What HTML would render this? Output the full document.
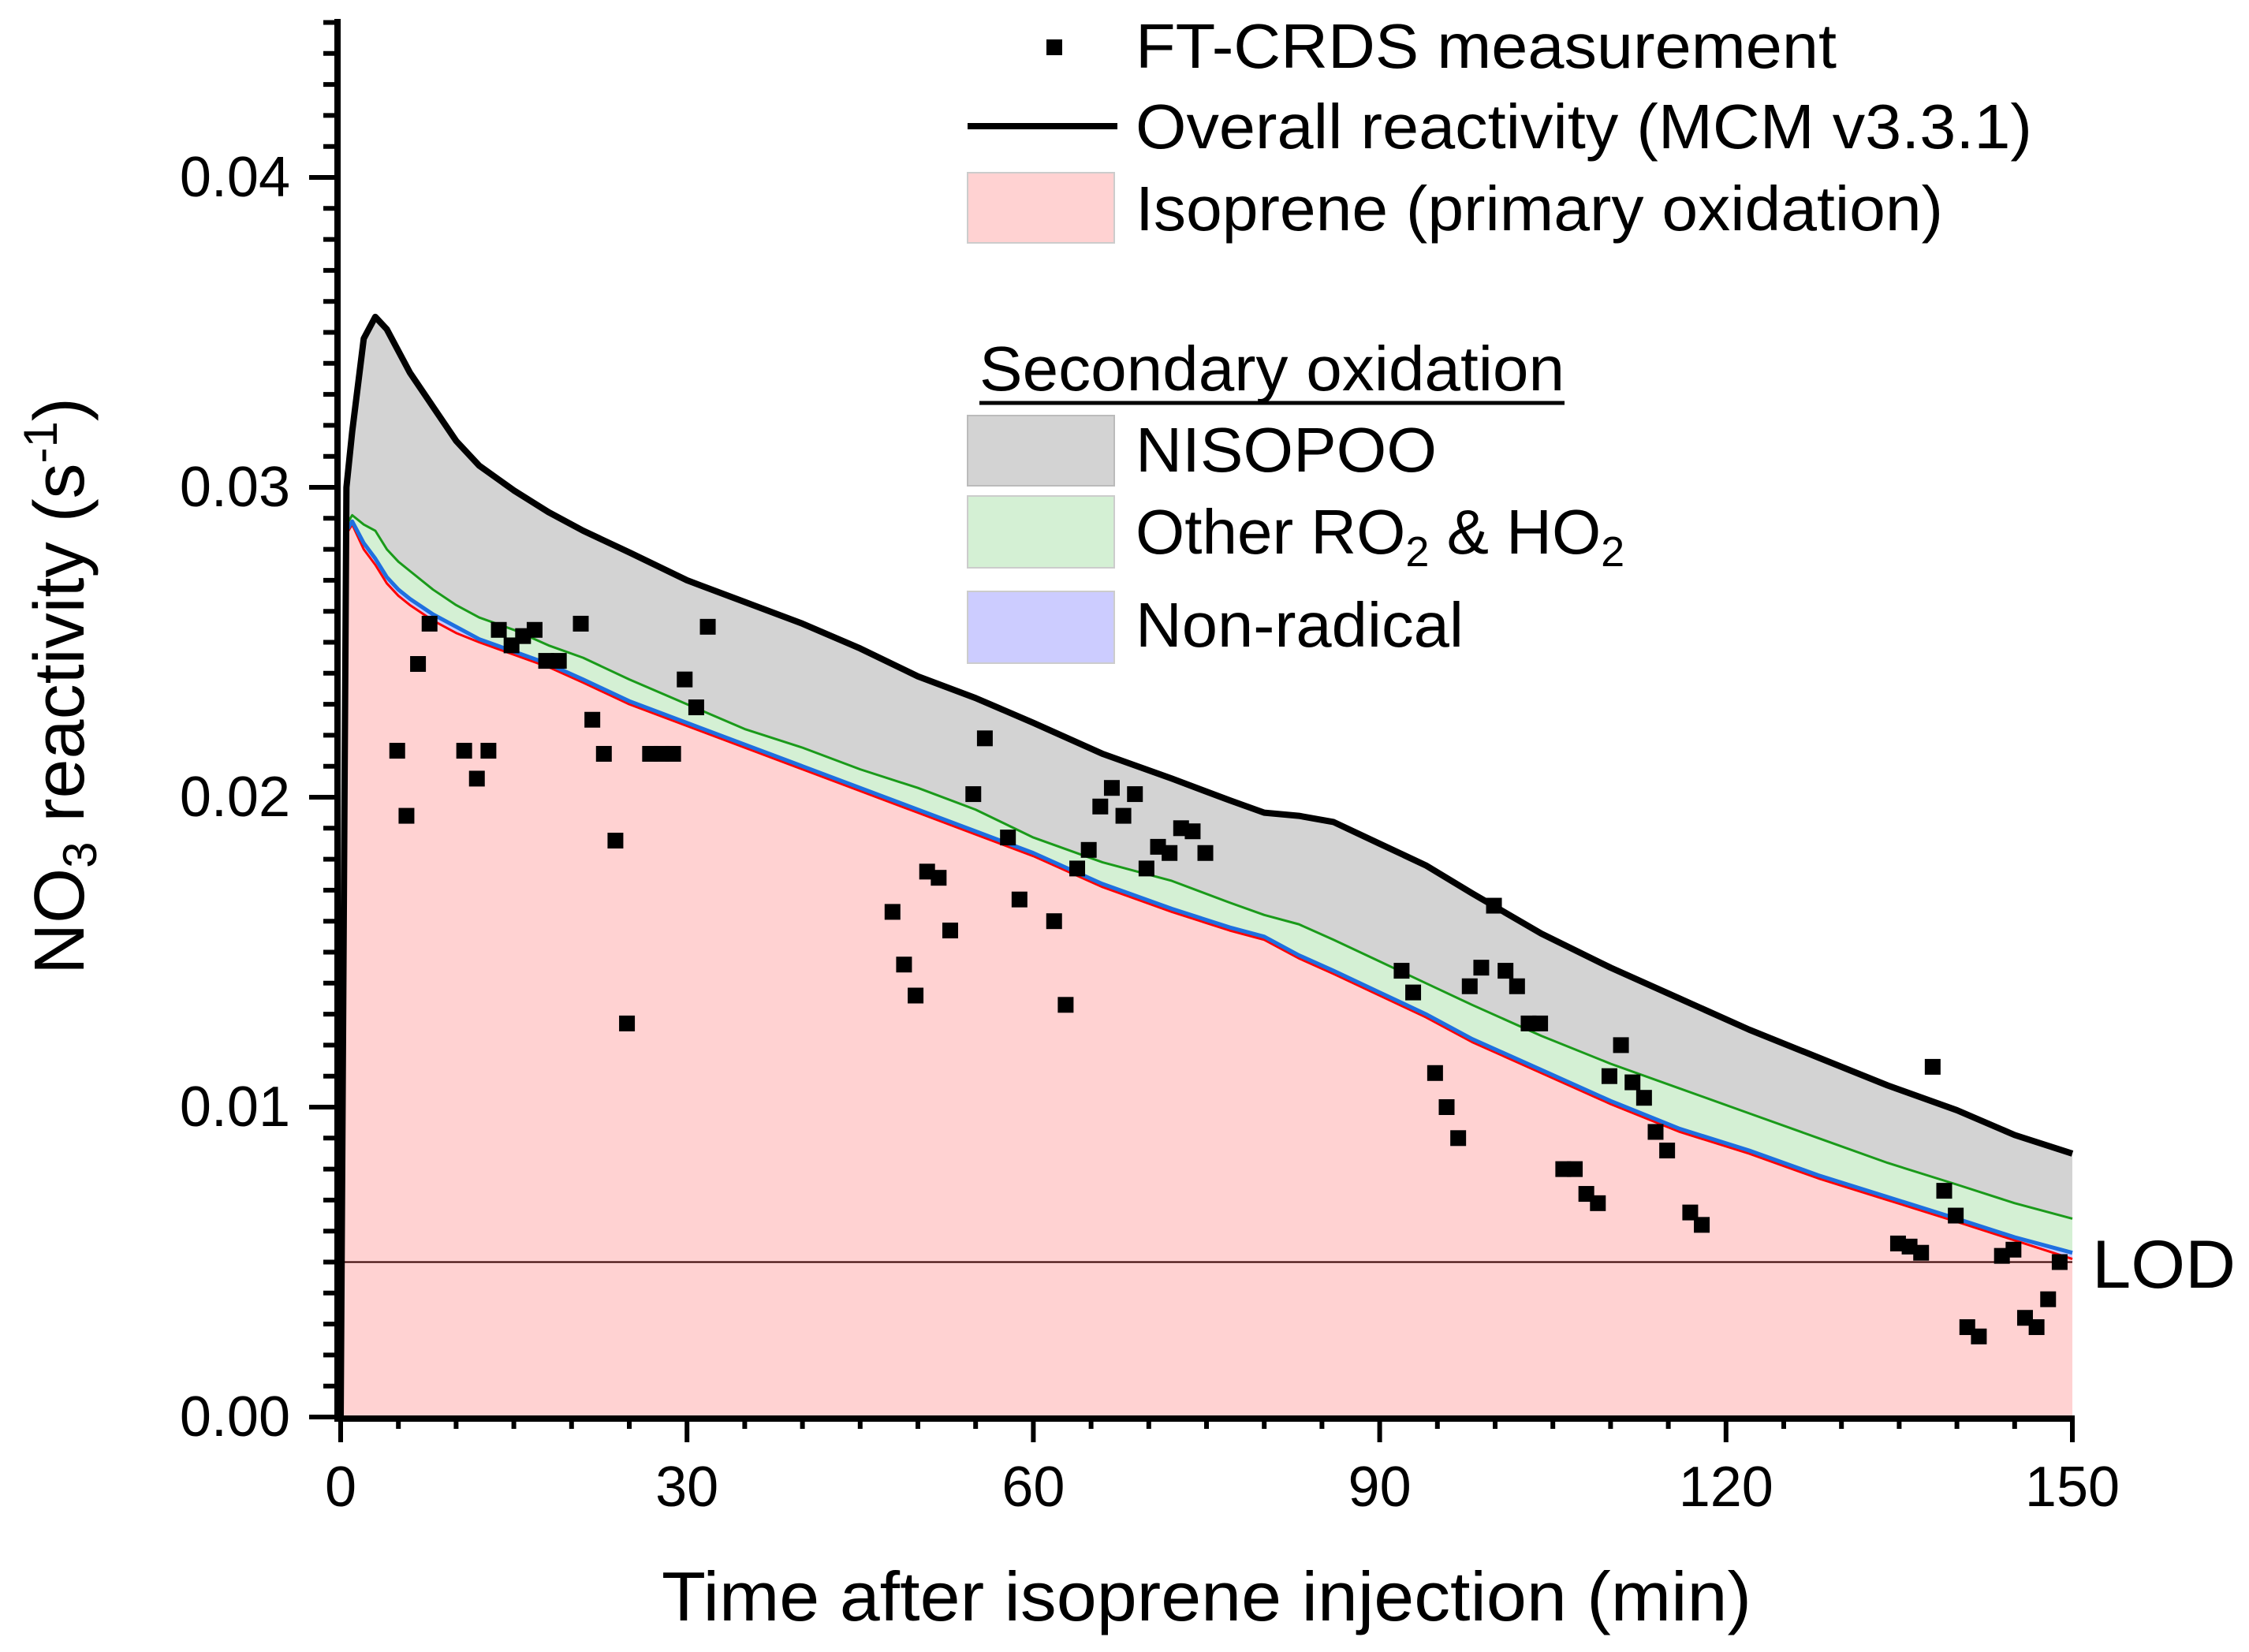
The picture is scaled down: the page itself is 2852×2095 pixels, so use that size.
<!DOCTYPE html>
<html><head><meta charset="utf-8"><style>
html,body{margin:0;padding:0;background:#fff;}
svg{display:block;font-family:"Liberation Sans",Arial,sans-serif;}
</style></head><body>
<svg id="chart" width="2852" height="2095" viewBox="0 0 2852 2095" xmlns="http://www.w3.org/2000/svg">
<g id="plot"></g>
<g id="axes"></g>
<g font-size="80">
  <rect x="1327" y="50" width="20" height="20" fill="#000"/>
  <text x="1440" y="86" textLength="889" lengthAdjust="spacingAndGlyphs">FT-CRDS measurement</text>
  <line x1="1227" y1="160" x2="1417" y2="160" stroke="#000" stroke-width="8"/>
  <text x="1440" y="188" textLength="1137" lengthAdjust="spacingAndGlyphs">Overall reactivity (MCM v3.3.1)</text>
  <rect x="1227" y="219" width="186" height="89" fill="#ffd2d2" stroke="#ccc" stroke-width="2"/>
  <text x="1440" y="292" textLength="1024" lengthAdjust="spacingAndGlyphs">Isoprene (primary oxidation)</text>
  <text x="1242" y="495" textLength="742" lengthAdjust="spacingAndGlyphs">Secondary oxidation</text>
  <line x1="1242" y1="511" x2="1984" y2="511" stroke="#000" stroke-width="5"/>
  <rect x="1227" y="527" width="186" height="89" fill="#d3d3d3" stroke="#bbb" stroke-width="2"/>
  <text x="1440" y="598" textLength="382" lengthAdjust="spacingAndGlyphs">NISOPOO</text>
  <rect x="1227" y="629" width="186" height="91" fill="#d4f0d4" stroke="#ccc" stroke-width="2"/>
  <text x="1440" y="702">Other RO<tspan font-size="54" dy="16">2</tspan><tspan dy="-16"> &amp; HO</tspan><tspan font-size="54" dy="16">2</tspan></text>
  <rect x="1227" y="750" width="186" height="91" fill="#ccccff" stroke="#ccc" stroke-width="2"/>
  <text x="1440" y="820" textLength="416" lengthAdjust="spacingAndGlyphs">Non-radical</text>
</g>
<text x="1530" y="2055" font-size="88" text-anchor="middle" textLength="1382" lengthAdjust="spacingAndGlyphs">Time after isoprene injection (min)</text>
<text transform="translate(106,870) rotate(-90)" font-size="90" text-anchor="middle">NO<tspan font-size="60" dy="16">3</tspan><tspan dy="-16"> reactivity (s</tspan><tspan font-size="60" dy="-34">-1</tspan><tspan dy="34">)</tspan></text>
<text x="2653" y="1633" font-size="86" textLength="182" lengthAdjust="spacingAndGlyphs">LOD</text>
</svg>
<script>
const modelTime  = [0, 0.5, 1, 2, 3, 4, 5, 6, 8, 10, 12, 15, 18, 21, 25, 30, 35, 40, 45, 50, 55, 60, 66, 72, 77, 80, 83, 86, 90, 94, 98, 104, 110, 116, 122, 128, 134, 140, 145, 150];
const overall    = [0, 0.0300, 0.0318, 0.0348, 0.0355, 0.0351, 0.0344, 0.0337, 0.0326, 0.0315, 0.0307, 0.0299, 0.0292, 0.0286, 0.0279, 0.0270, 0.0263, 0.0256, 0.0248, 0.0239, 0.0232, 0.0224, 0.0214, 0.0206, 0.0199, 0.0195, 0.0194, 0.0192, 0.0185, 0.0178, 0.0169, 0.0156, 0.0145, 0.0135, 0.0125, 0.0116, 0.0107, 0.0099, 0.0091, 0.0085];
const otherRO2   = [0, 0.0288, 0.0291, 0.0288, 0.0286, 0.0280, 0.0276, 0.0273, 0.0267, 0.0262, 0.0258, 0.0254, 0.0249, 0.0245, 0.0238, 0.0230, 0.0222, 0.0216, 0.0209, 0.0203, 0.0196, 0.0187, 0.0179, 0.0173, 0.0166, 0.0162, 0.0159, 0.0154, 0.0147, 0.0140, 0.0133, 0.0123, 0.0114, 0.0106, 0.0098, 0.0090, 0.0082, 0.0075, 0.0069, 0.0064];
const nonRadical = [0, 0.0286, 0.0289, 0.0282, 0.0277, 0.0271, 0.0267, 0.0264, 0.0259, 0.0255, 0.0251, 0.0247, 0.0243, 0.0238, 0.0231, 0.0224, 0.0217, 0.0210, 0.0203, 0.0196, 0.0189, 0.0182, 0.0172, 0.0164, 0.0158, 0.0155, 0.0149, 0.0144, 0.0137, 0.0130, 0.0122, 0.0112, 0.0102, 0.0093, 0.0086, 0.0078, 0.0071, 0.0064, 0.0058, 0.0053];
const isoprene   = [0, 0.0285, 0.0288, 0.0280, 0.0275, 0.0269, 0.0265, 0.0262, 0.0257, 0.0253, 0.0250, 0.0246, 0.0242, 0.0237, 0.0230, 0.0223, 0.0216, 0.0209, 0.0202, 0.0195, 0.0188, 0.0181, 0.0171, 0.0163, 0.0157, 0.0154, 0.0148, 0.0143, 0.0136, 0.0129, 0.0121, 0.0111, 0.0101, 0.0092, 0.0085, 0.0077, 0.0070, 0.0063, 0.0057, 0.0051];
const measTime = [4.9,5.7,6.7,7.7,10.7,11.8,12.8,13.7,14.8,15.8,16.8,17.8,18.9,20.8,21.8,22.8,23.8,24.8,26.8,27.8,28.8,29.8,30.8,31.8,47.8,48.8,49.8,50.8,51.8,52.8,54.8,55.8,57.8,58.8,61.8,62.8,63.8,64.8,65.8,66.8,67.8,68.8,69.8,70.8,71.8,72.8,73.8,74.9,91.9,92.9,94.8,95.8,96.8,97.8,98.8,99.9,100.9,101.9,102.9,103.9,105.9,106.9,107.9,108.9,109.9,110.9,111.9,112.9,113.9,114.9,116.9,117.9,134.9,135.9,136.9,137.9,138.9,139.9,140.9,141.9,143.9,144.9,145.9,146.9,147.9,148.9];
const measValue = [0.0215,0.0194,0.0243,0.0256,0.0215,0.0206,0.0215,0.0254,0.0249,0.0252,0.0254,0.0244,0.0244,0.0256,0.0225,0.0214,0.0186,0.0127,0.0214,0.0214,0.0214,0.0238,0.0229,0.0255,0.0163,0.0146,0.0136,0.0176,0.0174,0.0157,0.0201,0.0219,0.0187,0.0167,0.0160,0.0133,0.0177,0.0183,0.0197,0.0203,0.0194,0.0201,0.0177,0.0184,0.0182,0.0190,0.0189,0.0182,0.0144,0.0137,0.0111,0.0100,0.0090,0.0139,0.0145,0.0165,0.0144,0.0139,0.0127,0.0127,0.0080,0.0080,0.0072,0.0069,0.0110,0.0120,0.0108,0.0103,0.0092,0.0086,0.0066,0.0062,0.0056,0.0055,0.0053,0.0113,0.0073,0.0065,0.0029,0.0026,0.0052,0.0054,0.0032,0.0029,0.0038,0.0050];
const lodValue = 0.005;
const xTicks = [0, 30, 60, 90, 120, 150];
const xTickLabels = ["0", "30", "60", "90", "120", "150"];
const yTicks = [0, 0.01, 0.02, 0.03, 0.04];
const yTickLabels = ["0.00", "0.01", "0.02", "0.03", "0.04"];

const X0 = 432, X1 = 2628, Y0 = 1797, YPER = 39300;
const xs = t => X0 + (t / 150) * (X1 - X0);
const ys = v => Y0 - v * YPER;
const NS = "http://www.w3.org/2000/svg";
const plot = document.getElementById('plot');
const axes = document.getElementById('axes');
function mk(tag, parent, attrs) { const e = document.createElementNS(NS, tag); for (const k in attrs) e.setAttribute(k, attrs[k]); parent.appendChild(e); return e; }
function linePts(arr) { return arr.map((v, i) => xs(modelTime[i]) + ',' + ys(v)).join(' '); }
function band(top, bottom) {
  const a = top.map((v, i) => xs(modelTime[i]) + ',' + ys(v));
  const b = bottom.map((v, i) => xs(modelTime[i]) + ',' + ys(v)).reverse();
  return a.concat(b).join(' ');
}
const zeros = modelTime.map(() => 0);
let p;
p = mk('polygon', plot, {points: band(overall, otherRO2), fill: '#d3d3d3'});


p = mk('polygon', plot, {points: band(otherRO2, nonRadical), fill: '#d4f0d4'});


p = mk('polygon', plot, {points: band(nonRadical, isoprene), fill: '#ccccff'});


p = mk('polygon', plot, {points: band(isoprene, zeros), fill: '#ffd2d2'});


p = mk('polyline', plot, {points: linePts(otherRO2), fill: 'none', stroke: '#1a9a1a', 'stroke-width': 3, 'stroke-linejoin': 'round'});


p = mk('polyline', plot, {points: linePts(isoprene), fill: 'none', stroke: '#ff0000', 'stroke-width': 3, 'stroke-linejoin': 'round'});


p = mk('polyline', plot, {points: linePts(nonRadical), fill: 'none', stroke: '#1f6fe0', 'stroke-width': 5, 'stroke-linejoin': 'round'});


p = mk('line', plot, {x1: X0, x2: X1, y1: ys(lodValue), y2: ys(lodValue), stroke: '#300', 'stroke-width': 2});


p = mk('polyline', plot, {points: linePts(overall), fill: 'none', stroke: '#000', 'stroke-width': 8, 'stroke-linejoin': 'round'});


measTime.forEach((t, i) => {
  const r = mk('rect', plot, {x: xs(t) - 10, y: ys(measValue[i]) - 10, width: 20, height: 20, fill: '#000'});
  
  
});
let a = mk('line', axes, {x1: X0 - 4, x2: X0 - 4, y1: 24, y2: Y0 + 4, stroke: '#000', 'stroke-width': 8});


a = mk('line', axes, {x1: X0 - 8, x2: X1 + 3, y1: Y0 + 2, y2: Y0 + 2, stroke: '#000', 'stroke-width': 8});


for (let k = 0; k <= 45; k++) {
  const v = k / 1000, major = k % 10 === 0;
  const t = mk('line', axes, {x1: X0 - (major ? 40 : 22), x2: X0 - 4, y1: ys(v), y2: ys(v), stroke: '#000', 'stroke-width': 6});
  
  
}
for (let m = 0; m <= 150; m += 5) {
  const major = m % 30 === 0;
  const t = mk('line', axes, {x1: xs(m), x2: xs(m), y1: Y0, y2: Y0 + (major ? 32 : 15), stroke: '#000', 'stroke-width': 6});
  
  
}
yTicks.forEach((v, i) => {
  const t = mk('text', axes, {x: 368, y: ys(v) + 24, 'font-size': 72, 'text-anchor': 'end'});
  t.textContent = yTickLabels[i];
  
  
});
xTicks.forEach((v, i) => {
  const t = mk('text', axes, {x: xs(v), y: 1910, 'font-size': 72, 'text-anchor': 'middle'});
  t.textContent = xTickLabels[i];
  
  
});
</script>
</body></html>
